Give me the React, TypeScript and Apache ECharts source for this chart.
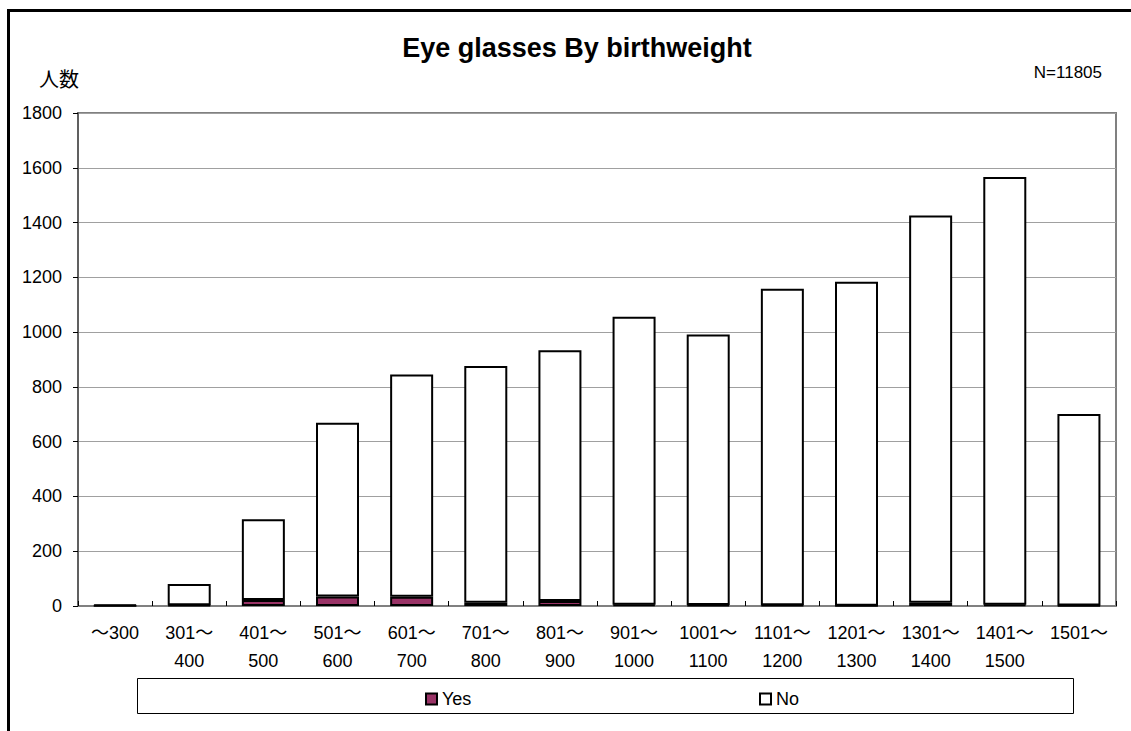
import React, { useEffect, useRef } from "react";
import * as echarts from "echarts";

const categories = [
  "～300", "301～\n400", "401～\n500", "501～\n600", "601～\n700", "701～\n800",
  "801～\n900", "901～\n1000", "1001～\n1100", "1101～\n1200", "1201～\n1300",
  "1301～\n1400", "1401～\n1500", "1501～",
];
const totals = [5, 80, 317, 669, 845, 876, 934, 1056, 991, 1158, 1184, 1426, 1566, 701];
const yesValues = [1, 3, 22, 35, 34, 12, 18, 5, 4, 3, 1, 12, 5, 2];
const noValues = totals.map((t, i) => t - yesValues[i]);

const FONT = "'Liberation Sans', Arial, 'Noto Sans CJK JP', sans-serif";

export default function App() {
  const ref = useRef<HTMLDivElement>(null);
  useEffect(() => {
    if (!ref.current) return;
    const chart = echarts.init(ref.current, null, { renderer: "svg" });
    chart.setOption({
      animation: false,
      backgroundColor: "#ffffff",
      textStyle: { fontFamily: FONT },
      graphic: [
        {
          type: "rect",
          shape: { x: 8.5, y: 10.5, width: 1200, height: 800 },
          style: { fill: "none", stroke: "#000", lineWidth: 3 },
          silent: true,
          z: 100,
        },
        {
          type: "text",
          x: 577,
          y: 48,
          style: {
            text: "Eye glasses By birthweight",
            fontSize: 27,
            fontWeight: "bold",
            fill: "#000",
            fontFamily: FONT,
            align: "center",
            verticalAlign: "middle",
          },
        },
        {
          type: "text",
          x: 39,
          y: 78,
          style: {
            text: "人数",
            fontSize: 20,
            fill: "#000",
            fontFamily: "'Noto Sans CJK JP', sans-serif",
            verticalAlign: "middle",
          },
        },
        {
          type: "text",
          x: 1102,
          y: 72,
          style: {
            text: "N=11805",
            fontSize: 17,
            fill: "#000",
            fontFamily: FONT,
            align: "right",
            verticalAlign: "middle",
          },
        },
        {
          type: "rect",
          shape: { x: 137.5, y: 678.5, width: 936, height: 35 },
          style: { fill: "#fff", stroke: "#000", lineWidth: 1 },
          z: -1,
        },
      ],
      legend: [
        {
          data: ["Yes"],
          left: 420,
          top: 685,
          icon: "rect",
          itemWidth: 11,
          itemHeight: 11,
          itemGap: 0,
          textStyle: { fontSize: 18, color: "#000", fontFamily: FONT },
        },
        {
          data: ["No"],
          left: 754,
          top: 685,
          icon: "rect",
          itemWidth: 11,
          itemHeight: 11,
          itemGap: 0,
          textStyle: { fontSize: 18, color: "#000", fontFamily: FONT },
        },
      ],
      grid: {
        left: 78,
        right: 15,
        top: 113,
        bottom: 125,
        show: true,
        borderColor: "#808080",
        borderWidth: 2,
        backgroundColor: "transparent",
      },
      xAxis: {
        type: "category",
        data: categories,
        axisLine: { show: true, lineStyle: { color: "#808080", width: 2 } },
        axisTick: { show: true, inside: true, length: 5, lineStyle: { color: "#000" } },
        axisLabel: {
          interval: 0,
          fontSize: 18,
          lineHeight: 28,
          margin: 13,
          color: "#000",
          fontFamily: FONT,
        },
      },
      yAxis: {
        type: "value",
        min: 0,
        max: 1800,
        interval: 200,
        axisLine: { show: true, lineStyle: { color: "#606060", width: 2 } },
        axisTick: { show: true, length: 5, lineStyle: { color: "#000" } },
        splitLine: { show: true, lineStyle: { color: "#a0a0a0", width: 1 } },
        axisLabel: {
          fontSize: 18,
          margin: 16,
          color: "#000",
          fontFamily: FONT,
          formatter: (v: number) => String(v),
        },
      },
      series: [
        {
          name: "Yes",
          type: "bar",
          stack: "total",
          data: yesValues,
          barWidth: 43,
          itemStyle: { color: "#993366", borderColor: "#000", borderWidth: 2 },
        },
        {
          name: "No",
          type: "bar",
          stack: "total",
          data: noValues,
          barWidth: 43,
          itemStyle: { color: "#ffffff", borderColor: "#000", borderWidth: 2 },
        },
      ],
    });
    return () => chart.dispose();
  }, []);
  return (
    <div
      ref={ref}
      style={{ position: "absolute", left: 0, top: 0, width: 1131, height: 731 }}
    />
  );
}
